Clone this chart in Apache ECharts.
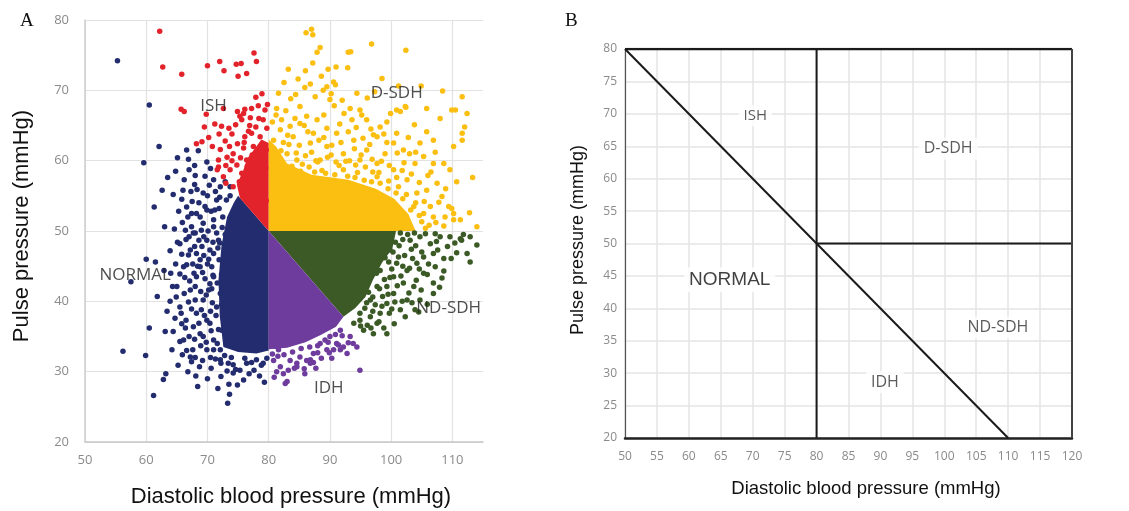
<!DOCTYPE html>
<html><head><meta charset="utf-8">
<script src="https://cdn.jsdelivr.net/npm/echarts@6/dist/echarts.min.js"></script>
<style>html,body{margin:0;padding:0;background:#fff}#c{width:1129px;height:511px}</style>
</head><body><div id="c"></div>
<script>
// ---------- Panel A data (diastolic BP, pulse pressure) ----------
const navyPoints = [[55.3,74.2],[60.5,67.9],[62.1,62.0],[59.6,59.7],[61.3,53.4],[63.5,57.6],[65.1,60.4],[66.6,61.5],[68.5,61.4],[60.0,46.0],[61.5,45.6],[57.5,42.8],[61.8,40.7],[60.5,36.2],[56.2,32.9],[59.9,32.3],[61.2,26.6],[62.8,28.9],[63.2,29.7],[63.1,35.7],[64.4,35.7],[63.9,40.0],[64.3,42.1],[63.9,47.2],[65.1,48.4],[65.9,51.2],[65.8,54.5],[66.2,57.3],[67.0,58.7],[67.9,59.3],[68.0,57.9],[68.4,27.9],[67.4,31.4],[67.6,33.1],[65.9,32.4],[65.5,34.3],[66.5,37.3],[65.7,38.3],[66.2,41.1],[65.5,43.9],[66.6,45.2],[67.0,49.2],[67.4,52.5],[69.3,55.4],[69.9,53.0],[68.8,44.9],[70.2,41.6],[69.0,38.8],[69.3,35.0],[68.7,30.7],[70.6,30.5],[72.2,29.3],[73.5,28.2],[73.6,26.8],[73.3,25.5],[74.9,28.1],[75.9,28.8],[77.6,30.2],[79.3,28.5],[71.0,57.3],[72.1,56.3],[71.5,54.4],[73.7,56.3],[73.1,54.4],[71.0,50.6],[70.4,47.3],[71.8,48.7],[71.0,43.5],[68.2,46.8],[68.0,49.7],[67.4,50.6],[68.8,52.0],[68.0,40.2],[67.7,36.4],[69.9,37.3],[71.0,33.1],[72.1,31.7],[74.2,31.0],[76.4,31.2],[78.0,31.7],[79.7,31.9],[66.6,53.4],[68.2,52.5],[69.3,51.1],[67.7,49.7],[69.9,48.7],[67.2,47.3],[68.8,45.9],[71.0,46.8],[66.1,44.9],[68.2,43.5],[70.4,42.5],[67.2,41.6],[69.3,40.2],[71.5,39.2],[68.2,38.3],[70.4,36.9],[68.8,35.4],[71.0,34.5],[72.1,33.1],[69.9,33.1],[65.5,39.2],[65.0,42.1],[65.5,48.2],[71.0,51.6],[71.5,49.7],[70.7,44.9],[72.1,41.1],[66.1,34.5],[67.2,32.1],[73.4,31.2],[74.2,29.8],[70.0,55.0],[72.5,52.0],[72.8,45.0],[72.6,37.5],[71.8,36.0],[70.8,39.8],[69.6,43.2],[70.1,50.0],[72.9,49.5],[72.3,43.8],[73.0,35.2],[71.3,31.8],[70.2,46.0],[69.1,47.8],[67.8,44.0],[66.9,39.9],[71.9,53.2],[70.6,52.8],[68.6,54.0],[67.3,55.6],[69.6,57.8],[70.5,58.9],[67.9,56.6],[66.4,50.1],[64.8,45.3],[64.7,37.6],[65.2,30.9],[66.8,30.0],[68.1,29.4],[70.0,29.0],[71.7,27.6],[74.6,30.3],[76.8,29.7],[78.8,30.9],
  [64.0,44.0],[64.6,50.3],[65.3,52.8],[66.0,55.8],[66.8,52.0],[67.5,54.2],[68.3,55.9],[69.0,50.1],[69.6,53.5],[70.3,56.5],[71.3,55.6],[72.0,54.8],[72.4,50.5],[71.7,47.6],[70.9,48.4],[70.0,45.3],[69.4,46.5],[68.6,48.7],[67.9,47.8],[66.9,46.6],[66.3,43.4],[67.1,42.9],[68.0,42.1],[68.9,41.4],[69.8,40.9],[70.7,41.8],[71.6,42.6],[72.3,39.5],[71.4,38.0],[70.5,38.6],[69.5,38.0],[68.6,36.9],[67.4,38.9],[66.4,36.2],[67.0,35.0],[67.9,34.6],[68.9,33.7],[69.8,34.2],[70.6,35.8],[71.6,34.0],[72.3,35.9],[72.2,31.2],[70.5,32.0],[69.2,31.6],[68.0,32.0],[66.6,33.0],[65.8,36.8],[64.9,40.6],[65.8,46.7],[66.5,48.8],[67.6,45.3],[68.4,45.0],[69.2,44.1],[70.9,43.7],[71.9,45.9],[72.0,48.3],[71.2,53.0],[69.4,49.2],[73.2,30.1],[75.3,30.2],[76.1,31.9],[77.2,31.3],[78.5,29.4],[79.1,31.2],[73.9,32.0],[72.8,32.3],[64.2,33.1],[63.4,38.6],[62.9,44.4],[63.0,50.6],[64.4,55.2],[62.6,55.8],[64.8,58.5],[66.9,60.2],[69.9,59.8],[73.7,55.0],[72.9,57.0]];
const redPoints = [[62.2,78.4],[62.7,73.3],[65.8,72.3],[70.0,73.5],[72.0,74.1],[72.7,72.8],[74.7,73.7],[75.5,73.8],[75.0,72.0],[76.4,72.4],[77.6,75.3],[78.0,74.1],[65.7,67.3],[66.2,67.0],[69.8,66.6],[72.6,67.4],[78.9,69.5],[77.9,69.0],[77.2,67.4],[76.1,67.3],[75.6,65.8],[75.9,66.7],[71.2,65.2],[69.5,64.8],[68.2,62.4],[69.1,62.7],[71.9,63.8],[74.0,63.8],[76.1,63.4],[77.2,63.9],[78.6,63.4],[72.9,62.8],[74.2,61.0],[75.9,61.8],[77.5,62.0],[74.8,59.4],[73.7,58.7],[75.6,58.2],[72.6,57.7],[71.8,59.1],[74.2,56.3],[76.4,60.1],[78.0,60.3],[79.7,64.6],[79.4,67.2],[79.8,68.0],[73.2,60.5],[76.9,65.0],[78.4,66.0],[79.0,62.2],[77.0,58.7],[75.2,57.0],[73.0,56.8],[71.8,60.1],[71.6,58.7],[74.9,67.0],[75.3,66.3],
  [76.7,57.5],[77.8,57.0],[78.9,57.8],[79.5,59.0],[78.2,59.4],[76.5,59.2],[77.3,60.8],[78.7,61.0],[79.6,61.5],[76.0,62.6],[74.9,62.4],[73.6,62.0],[72.1,61.6],[73.0,59.3],[74.0,60.0],[75.4,60.4],[77.9,64.8],[76.7,64.2],[79.1,65.8],[78.3,67.8],[77.0,66.1],[74.6,65.1],[73.5,64.6],[72.3,64.9],[70.8,62.0],[70.2,63.3],[79.3,56.5],[79.6,54.3],[78.3,55.2]];
const yellowPoints = [[86.1,78.2],[87.0,78.7],[87.2,77.9],[88.4,76.1],[87.9,75.4],[87.2,73.9],[83.2,73.0],[89.7,73.0],[91.0,73.3],[92.9,73.2],[93.0,75.4],[93.4,75.5],[96.8,76.6],[102.4,75.7],[84.8,71.6],[85.9,70.4],[86.8,70.9],[87.6,69.1],[88.9,70.0],[89.5,70.5],[90.6,71.2],[90.9,70.8],[90.2,69.5],[81.6,69.6],[83.6,68.8],[81.2,66.5],[98.5,71.7],[100.9,67.2],[101.5,67.0],[102.4,67.6],[105.8,67.4],[108.0,66.0],[110.5,67.2],[111.6,69.1],[112.4,66.7],[93.3,67.4],[93.6,65.8],[94.9,67.2],[96.0,65.8],[95.2,66.5],[99.3,65.5],[98.2,64.8],[100.9,63.9],[97.7,63.4],[100.4,62.5],[105.8,64.1],[106.9,62.9],[104.7,62.5],[111.6,63.9],[111.6,62.9],[110.2,62.0],[102.0,61.5],[103.9,59.6],[105.3,60.6],[106.9,59.6],[108.6,59.6],[109.6,58.7],[110.7,57.0],[108.3,54.9],[109.4,53.5],[109.9,53.2],[110.2,52.5],[108.8,52.0],[111.3,51.6],[114.0,50.6],[110.2,51.6],[107.5,56.8],[105.8,55.8],[104.2,55.4],[106.4,53.5],[106.9,52.0],[105.3,52.5],[103.7,53.5],[102.6,57.3],[100.4,58.7],[97.7,59.6],[94.9,60.1],[92.2,61.0],[89.5,62.0],[86.8,62.5],[84.0,63.4],[81.9,64.4],[80.8,62.9],[85.1,65.3],[87.9,65.8],[91.1,63.9],[93.9,62.9],[96.0,61.5],[88.4,60.1],[84.6,60.1],[81.9,59.6],[92.2,58.7],[97.7,57.7],[86.2,66.3],[89.5,64.6],[82.1,65.8],[85.1,67.7],[109.9,67.2],[102.3,67.7],[83.0,61.0],[85.5,59.5],[87.0,61.2],[88.7,58.6],[90.2,60.8],[91.5,59.3],[93.2,60.0],[94.5,58.3],[95.8,59.1],[97.0,58.4],[98.4,59.9],[99.6,57.1],[101.2,56.3],[102.5,55.2],[104.0,54.0],[105.0,51.3],[106.2,50.8],[107.3,51.2],[101.8,58.6],[99.0,61.0],[96.5,62.3],[94.0,61.7],[91.8,62.6],[89.0,63.3],[86.4,64.1],[83.5,64.9],[82.4,62.6],[85.0,62.2],[88.0,59.8],[84.2,57.6],
  [81.0,58.2],[82.7,58.8],[83.8,59.2],[85.2,58.5],[86.6,59.1],[87.5,58.4],[89.3,58.2],[90.8,58.0],[92.9,57.8],[94.1,57.6],[95.6,57.2],[96.8,57.0],[98.2,56.8],[99.5,56.0],[100.8,55.4],[101.9,54.6],[103.2,53.0],[104.6,52.2],[105.6,50.4],[82.0,61.4],[83.3,62.3],[84.5,61.1],[86.0,60.7],[87.7,60.0],[89.6,60.5],[91.0,59.8],[92.6,59.9],[94.2,59.4],[95.1,60.8],[96.9,60.2],[98.0,58.3],[99.7,59.3],[100.9,57.6],[102.1,59.7],[103.3,58.1],[104.6,56.9],[105.4,54.2],[106.0,57.9],[103.0,61.0],[101.0,61.1],[99.3,62.6],[97.1,63.7],[95.4,63.2],[93.0,64.1],[91.6,65.2],[90.3,62.2],[88.2,62.9],[87.3,63.9],[85.8,65.0],[84.3,66.0],[83.1,63.6],[81.4,60.7],[80.6,65.5],[81.3,67.4],[82.8,67.1],[89.0,66.5],[90.7,67.8],[92.3,66.7],[94.3,64.7],[96.7,64.5],[98.8,63.8],[102.8,63.3],[104.0,61.2],[107.2,61.2],[106.5,58.4],[107.8,54.1],[108.9,56.0],[103.8,65.1],[99.9,66.7],[96.1,68.9],[94.4,69.6],[92.0,68.6],[90.0,68.7],[84.4,69.4],[82.5,71.1],[86.0,72.8],[88.6,72.0],[97.3,69.8],[101.2,70.6],[104.9,70.6],[108.4,69.9],[112.0,64.8],[113.3,57.6],[112.8,52.6],[108.6,50.7]];
const greenPoints = [[101.5,49.7],[103.1,48.7],[104.7,49.2],[106.4,48.2],[108.0,49.2],[109.6,49.2],[111.3,48.9],[112.9,49.2],[114.0,48.0],[112.4,46.8],[112.9,45.6],[108.6,46.1],[106.9,46.8],[105.3,46.3],[104.2,45.4],[102.6,44.4],[100.9,45.4],[100.4,43.5],[102.0,42.6],[103.7,42.1],[105.3,44.0],[106.9,42.6],[108.3,43.3],[106.9,41.1],[104.7,40.2],[102.6,40.2],[100.4,41.1],[99.3,39.7],[98.2,38.3],[96.6,37.8],[94.9,37.3],[93.9,36.9],[97.7,36.9],[99.3,35.4],[97.1,35.4],[95.5,35.9],[101.5,38.8],[99.3,42.1],[98.2,44.4],[99.8,47.3],[97.7,42.1],[96.6,40.2],[111.5,48.7],[107.2,44.9],[103.9,38.8],[99.0,46.2],[100.1,44.6],[97.6,44.0],[98.9,43.1],[96.3,41.3],[97.4,39.5],[98.6,40.7],[95.7,39.0],[101.3,47.9],[102.2,46.5],[103.3,47.4],[104.1,43.0],[101.6,43.6],[99.7,38.3],[96.1,36.6],[98.0,37.1],[100.6,39.9],[102.9,41.2],[105.9,43.8],[107.6,47.3],[109.2,47.8],[110.4,48.3],[111.8,49.5],[104.5,38.5],[100.5,36.8],
  [101.9,48.8],[102.7,49.5],[103.8,49.7],[105.6,49.6],[107.2,49.6],[104.0,47.9],[105.0,47.0],[106.1,45.3],[103.5,46.1],[101.2,46.3],[100.7,48.4],[99.6,45.6],[98.3,46.6],[97.5,45.3],[96.7,43.8],[95.9,42.3],[99.8,43.4],[101.0,42.2],[98.1,41.8],[99.5,41.0],[97.0,40.6],[96.0,39.8],[94.9,38.3],[97.0,38.6],[98.5,39.3],[100.1,38.9],[101.8,40.0],[103.4,39.8],[102.3,37.8],[98.8,36.2],[96.7,36.2],[95.0,36.5],[104.9,41.6],[105.9,39.6],[107.9,42.0],[108.6,44.3],[109.8,46.1],[110.7,46.9],[107.4,48.5],[103.0,44.7],[104.6,44.6],[101.9,45.0],[100.3,47.0]];
const purplePoints = [[91.7,35.9],[91.1,34.0],[92.2,33.5],[94.4,33.5],[93.3,35.0],[90.0,35.0],[89.5,33.1],[88.4,34.0],[87.3,32.6],[86.2,31.6],[84.6,31.2],[85.1,32.1],[83.5,31.6],[82.4,29.7],[82.7,28.3],[94.9,30.2],[86.8,31.2],[90.6,33.1],[81.9,30.7],[80.8,31.6],[91.7,33.1],[93.8,34.0],[84.6,30.7],[83.0,28.6],[86.8,31.7],[88.0,32.7],[89.2,34.5],[81.5,32.2],[85.8,30.4],
  [80.6,32.5],[81.6,33.1],[82.5,32.4],[83.9,32.8],[85.3,33.3],[86.7,33.5],[88.0,33.7],[89.7,34.2],[90.9,35.3],[92.0,35.1],[93.0,34.1],[91.4,33.8],[89.9,32.7],[88.6,31.9],[87.3,31.3],[84.2,30.5],[83.2,30.2],[81.3,30.0],[80.9,29.2],[85.9,29.7],[87.7,30.5],[90.3,31.9],[92.8,32.6],[81.1,33.6]];
// dense (solid) cores of each cloud, as data-space outlines
const navyCore = [[72.6,33.5],[72.0,38],[71.8,43],[72.3,48],[73.2,52],[74.3,54],[75,55],[80,50],[80,33],[78,32.6],[75,32.8]];
const redCore = [[75.3,54.7],[80,50],[80,62.5],[78.8,63],[77.8,61.8],[76.5,60.3],[75.8,58.5],[74.8,56.6]];
const yellowCore = [[80,50],[104,50],[102.8,52.4],[100.5,54.6],[97.5,56.0],[93,57.3],[87,58.0],[83,59.6],[81.2,62],[80,63]];
const greenCore = [[80,50],[100.8,50],[100.2,47.5],[98.5,45.5],[97.0,43],[95.8,40.6],[94.1,39],[92.2,37.8]];
const purpleCore = [[80,50],[92.2,37.8],[91,36.4],[88.5,35.2],[86,34.2],[83,33.4],[80,33.2]];
const labelsA = [["ISH",71.0,67.7],["D-SDH",100.9,69.6],["NORMAL",58.2,43.7],["ND-SDH",109.4,39.0],["IDH",89.8,27.6]];

// ---------- Panel B data ----------
const boundaryLines = [
  [[80,20],[80,80]],
  [[80,50],[120,50]],
  [[50,80],[110,20]]
];
const frameTop = [[50,80],[120,80]];
const frameRight = [[120,20],[120,80]];
const labelsB = [["ISH",70.4,69.7,15],["D-SDH",100.6,64.6,16],["NORMAL",66.4,44.4,19],["ND-SDH",108.4,37.0,16],["IDH",90.7,28.6,16]];

const C = {navy:'#232c6e', red:'#e3232b', yellow:'#fbbf12', green:'#3b5a25', purple:'#6e3c9c'};

function core(poly, color){
  return {type:'custom', xAxisIndex:0, yAxisIndex:0, silent:true, clip:true, z:1,
    data:[[50,20]],
    renderItem:(params, api)=>({type:'polygon', shape:{points:poly.map(p=>api.coord(p))}, style:{fill:color}})};
}
function pts(data, color){
  return {type:'scatter', xAxisIndex:0, yAxisIndex:0, data:data, symbolSize:5.5, z:2, silent:true,
    itemStyle:{color:color, opacity:1}};
}
const chart = echarts.init(document.getElementById('c'), null, {renderer:'canvas'});
const tickFont = "'Open Sans', 'DejaVu Sans', sans-serif";
chart.setOption({
  animation:false,
  grid:[
    {left:85, top:20, width:398, height:422},
    {left:625, top:49, width:447, height:389}
  ],
  xAxis:[
    {gridIndex:0, type:'value', min:50, max:115, interval:10,
     axisLine:{show:true, lineStyle:{color:'#c8c8c8', width:1.5}}, axisTick:{show:false},
     axisLabel:{color:'#8a8a8a', fontSize:13, fontFamily:tickFont, margin:12, showMaxLabel:false},
     splitLine:{show:true, showMaxLine:false, lineStyle:{color:'#e2e2e2', width:1.2}}},
    {gridIndex:1, type:'value', min:50, max:120, interval:5,
     axisLine:{show:true, lineStyle:{color:'#222', width:2.5}}, axisTick:{show:false},
     axisLabel:{color:'#8a8a8a', fontSize:12, fontFamily:"'Liberation Sans Narrow', 'Open Sans', sans-serif", margin:13},
     splitLine:{show:true, lineStyle:{color:'#e4e4e4', width:1.5}}}
  ],
  yAxis:[
    {gridIndex:0, type:'value', min:20, max:80, interval:10,
     axisLine:{show:true, lineStyle:{color:'#cfcfcf', width:1.5}}, axisTick:{show:false},
     axisLabel:{color:'#8a8a8a', fontSize:13, fontFamily:tickFont, margin:16},
     splitLine:{show:true, lineStyle:{color:'#e2e2e2', width:1.2}}},
    {gridIndex:1, type:'value', min:20, max:80, interval:5,
     axisLine:{show:true, lineStyle:{color:'#555', width:1.2}}, axisTick:{show:false},
     axisLabel:{color:'#8a8a8a', fontSize:12, fontFamily:"'Liberation Sans Narrow', 'Open Sans', sans-serif", margin:8},
     splitLine:{show:true, lineStyle:{color:'#e4e4e4', width:1.5}}}
  ],
  graphic:[
    {type:'text', left:20, top:12, style:{text:'A', font:"19px 'Liberation Serif', serif", fill:'#111'}},
    {type:'text', left:565, top:12, style:{text:'B', font:"19px 'Liberation Serif', serif", fill:'#111'}},
    {type:'text', x:22, y:226, rotation:Math.PI/2, style:{text:'Pulse pressure (mmHg)', font:"22px 'Liberation Sans', Arial, sans-serif", fill:'#111', align:'center', verticalAlign:'middle'}},
    {type:'text', x:291, y:497, style:{text:'Diastolic blood pressure (mmHg)', font:"22px 'Liberation Sans', Arial, sans-serif", fill:'#111', align:'center', verticalAlign:'middle'}},
    {type:'text', x:578, y:240, rotation:Math.PI/2, style:{text:'Pulse pressure (mmHg)', font:"18px 'Liberation Sans', Arial, sans-serif", fill:'#111', align:'center', verticalAlign:'middle'}},
    {type:'text', x:866, y:489, style:{text:'Diastolic blood pressure (mmHg)', font:"18.5px 'Liberation Sans', Arial, sans-serif", fill:'#111', align:'center', verticalAlign:'middle'}}
  ],
  series:[
    core(navyCore, C.navy), core(redCore, C.red), core(yellowCore, C.yellow), core(greenCore, C.green), core(purpleCore, C.purple),
    pts(navyPoints, C.navy), pts(redPoints, C.red), pts(yellowPoints, C.yellow), pts(greenPoints, C.green), pts(purplePoints, C.purple),
    {type:'scatter', xAxisIndex:0, yAxisIndex:0, symbolSize:0, z:5, silent:true,
     data:labelsA.map(l=>({value:[l[1],l[2]], name:l[0]})),
     label:{show:true, position:'inside', formatter:'{b}', color:'#222', fontSize:17, fontFamily:"'Open Sans', sans-serif"}},
    ...boundaryLines.map(seg=>({type:'line', xAxisIndex:1, yAxisIndex:1, data:seg, symbol:'none', silent:true, z:3,
      lineStyle:{color:'#1a1a1a', width:2}})),
    {type:'line', xAxisIndex:1, yAxisIndex:1, data:frameTop, symbol:'none', silent:true, z:3, lineStyle:{color:'#1a1a1a', width:2.5}},
    {type:'line', xAxisIndex:1, yAxisIndex:1, data:frameRight, symbol:'none', silent:true, z:3, lineStyle:{color:'#444', width:2}},
    {type:'scatter', xAxisIndex:1, yAxisIndex:1, symbolSize:0, z:5, silent:true,
     data:labelsB.map(l=>({value:[l[1],l[2]], name:l[0], label:{fontSize:l[3],
        fontFamily: l[0]==='NORMAL' ? "'Liberation Sans', Arial, sans-serif" : "'Open Sans', sans-serif",
        color: l[0]==='NORMAL' ? '#111' : '#333'}})),
     label:{show:true, position:'inside', formatter:'{b}', backgroundColor:'#fff', padding:[3,5]}}
  ]
});
</script></body></html>
